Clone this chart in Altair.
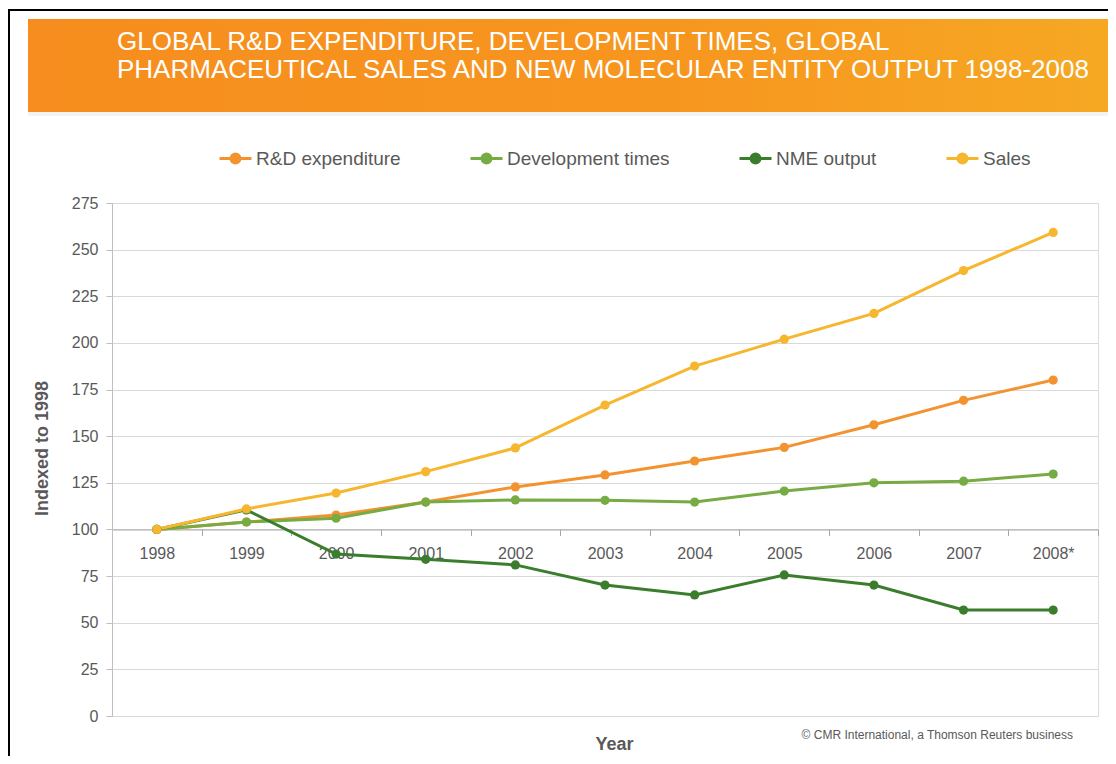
import altair as alt
import pandas as pd

years = ["1998", "1999", "2000", "2001", "2002", "2003", "2004", "2005", "2006", "2007", "2008*"]
series_names = ["R&D expenditure", "Development times", "NME output", "Sales"]
rd_expenditure = [100, 104, 107.7, 114.7, 122.8, 129.2, 136.7, 144.0, 156.1, 169.2, 180.1]
development_times = [100, 104, 106.0, 114.7, 115.8, 115.6, 114.7, 120.6, 125.0, 125.9, 129.7]
nme_output = [100, 110.5, 86.8, 84.0, 81.0, 70.2, 64.9, 75.6, 70.2, 56.8, 56.8]
sales = [100, 111, 119.5, 131, 143.7, 166.7, 187.6, 202, 215.8, 238.8, 259.2]
series_colors = ["#F39330", "#77AB43", "#3A7D2C", "#F6B72E"]
y_ticks = list(range(0, 276, 25))

title_line1 = "GLOBAL R&D EXPENDITURE, DEVELOPMENT TIMES, GLOBAL"
title_line2 = "PHARMACEUTICAL SALES AND NEW MOLECULAR ENTITY OUTPUT 1998-2008"
source_text = "\u00a9 CMR International, a Thomson Reuters business"

rows = []
for name, vals in zip(series_names, [rd_expenditure, development_times, nme_output, sales]):
    for yr, v in zip(years, vals):
        rows.append({"Year": yr, "Series": name, "Value": v})
df = pd.DataFrame(rows)

W, H = 986, 513
FONT = "Liberation Sans"
GRAY = "#595959"

legend_path = "M-1,0L1,0M-0.28,0A0.28,0.28,0,1,0,0.28,0A0.28,0.28,0,1,0,-0.28,0Z"

color = alt.Color(
    "Series:N",
    scale=alt.Scale(domain=series_names, range=series_colors),
    legend=alt.Legend(
        orient="none", legendX=106, legendY=-62, direction="horizontal", columns=4,
        title=None, symbolType=legend_path, symbolSize=1024, symbolStrokeWidth=3,
        labelFontSize=19, labelColor=GRAY, labelFont=FONT, columnPadding=63, labelOffset=3,
        labelLimit=400,
    ),
)

x = alt.X(
    "Year:N", sort=years,
    scale=alt.Scale(type="band", paddingInner=0, paddingOuter=0),
    axis=alt.Axis(
        tickBand="extent", offset=-H * 100 / 275, grid=False,
        domainColor="#a6a6a6", tickColor="#a6a6a6", tickSize=6, labelPadding=10, labelAngle=0,
        labelFontSize=16, labelColor=GRAY, labelFont=FONT,
        title="Year", titleX=502, titleY=206, titleBaseline="top", titleAlign="center",
        titleFontSize=18, titleFont=FONT, titleFontWeight="bold", titleColor=GRAY,
    ),
)
y = alt.Y(
    "Value:Q",
    scale=alt.Scale(domain=[0, 275], nice=False),
    axis=alt.Axis(
        values=y_ticks, grid=True, gridColor="#d9d9d9", domainColor="#bfbfbf", tickColor="#bfbfbf",
        tickSize=6, labelPadding=8, labelFontSize=16, labelColor=GRAY, labelFont=FONT,
        title="Indexed to 1998", titleX=-70, titleY=245, titleAngle=270, titleAlign="center",
        titleBaseline="middle", titleFontSize=18, titleFont=FONT, titleFontWeight="bold", titleColor=GRAY,
    ),
)

lines = alt.Chart(df).mark_line(strokeWidth=3).encode(x=x, y=y, color=color)
points = alt.Chart(df).mark_circle(size=85, opacity=1).encode(x=x, y=y, color=color)

one = pd.DataFrame({"t": [0]})
gradient = alt.LinearGradient(
    gradient="linear", x1=0, x2=1, y1=0, y2=0,
    stops=[alt.GradientStop(color="#F68D1E", offset=0),
           alt.GradientStop(color="#F7961F", offset=0.6),
           alt.GradientStop(color="#F6A823", offset=1)],
)
banner = alt.Chart(one).mark_rect(fill=gradient).encode(
    x=alt.value(-84), x2=alt.value(998), y=alt.value(-184), y2=alt.value(-91))
shadow = alt.Chart(one).mark_rect(fill="#f3f3f3").encode(
    x=alt.value(-84), x2=alt.value(998), y=alt.value(-91), y2=alt.value(-87))
frame_top = alt.Chart(one).mark_rule(color="black", strokeWidth=2).encode(
    x=alt.value(-104), x2=alt.value(996), y=alt.value(-193))
frame_left = alt.Chart(one).mark_rule(color="black", strokeWidth=2).encode(
    x=alt.value(-103), y=alt.value(-194), y2=alt.value(560))

t1 = alt.Chart(pd.DataFrame({"t": [title_line1]})).mark_text(
    align="left", baseline="alphabetic", font=FONT, fontSize=26, color="white").encode(
    text="t:N", x=alt.value(5), y=alt.value(-153))
t2 = alt.Chart(pd.DataFrame({"t": [title_line2]})).mark_text(
    align="left", baseline="alphabetic", font=FONT, fontSize=26, color="white").encode(
    text="t:N", x=alt.value(5), y=alt.value(-125))
src = alt.Chart(pd.DataFrame({"t": [source_text]})).mark_text(
    align="right", baseline="alphabetic", font=FONT, fontSize=12, color=GRAY).encode(
    text="t:N", x=alt.value(961), y=alt.value(536))

chart = alt.layer(banner, shadow, frame_top, frame_left, t1, t2, src, lines, points).properties(
    width=W, height=H,
    autosize=alt.AutoSizeParams(type="none"),
    padding={"left": 104, "top": 195, "right": 10, "bottom": 40},
).configure_view(stroke=None).configure(background="white")

chart.save("out.html", embed_options={"renderer": "svg", "actions": False})
